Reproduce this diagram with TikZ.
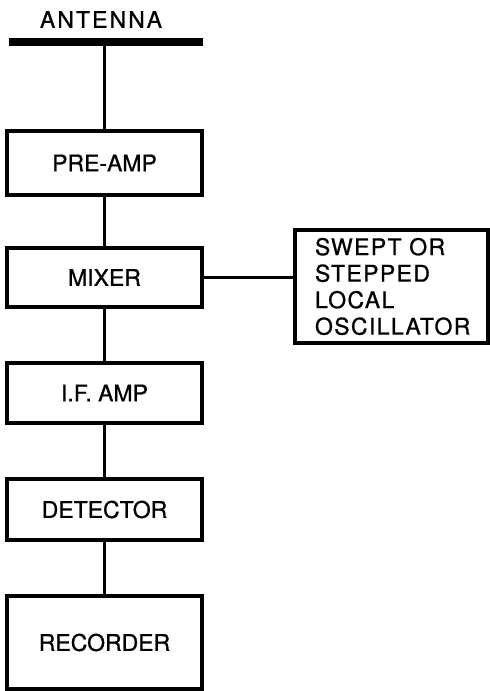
\documentclass[tikz,border=0pt]{standalone}
\usepackage{fontspec}
\setmainfont{TeX Gyre Heros}
\usepackage{tikz}
\usetikzlibrary{positioning,calc}

\begin{document}
\begin{tikzpicture}[
    x=1pt,y=1pt,
    wire/.style={draw=black, line width=3.8pt},
    mast/.style={draw=black, line width=8pt},
    block/.style={
        draw=black,
        line width=4.8pt,
        minimum width=195pt,
        inner sep=0pt,
        font=\fontsize{23}{26.5}\selectfont\addfontfeature{FakeBold=0.9}
    },
    sidebox/.style={
        draw=black,
        line width=4.8pt,
        minimum width=193pt,
        minimum height=113pt,
        inner xsep=20pt,
        inner ysep=0pt,
        text width=153pt,
        align=left,
        font=\fontsize{23}{26.5}\selectfont\addfontfeature{FakeBold=0.9,LetterSpace=6}
    },
    label/.style={font=\fontsize{23}{26.5}\selectfont\addfontfeature{FakeBold=0.9,LetterSpace=9}}
]

% ===== frame =====
\fill[white] (0,0) rectangle (490,-691);
\useasboundingbox (0,0) rectangle (490,-691);

% ===== antenna =====
\node[label] (antlabel) at (101,-19.5) {ANTENNA};
\coordinate (barL) at (9,-42);
\coordinate (barR) at (203,-42);
\draw[mast] (barL) -- (barR);

% ===== receiver chain =====
\node[block, minimum height=64pt] (preamp)   at (104.5,-163)   {PRE-AMP};
\node[block, minimum height=59pt] (mixer)    at (104.5,-277.5) {MIXER};
\node[block, minimum height=60pt] (ifamp)    at (104.5,-393)   {I.F. AMP};
\node[block, minimum height=61pt] (detector) at (104.5,-509.5) {DETECTOR};
\node[block, minimum height=93pt] (recorder) at (104.5,-642.5) {RECORDER};

% local oscillator
\node[sidebox] (osc) at (391.5,-286.5)
  {SWEPT OR\\ STEPPED\\ LOCAL\\ OSCILLATOR};

% ===== wires =====
\draw[wire] (preamp.north |- barL) -- (preamp.north);
\draw[wire] (preamp.south) -- (mixer.north);
\draw[wire] (mixer.south) -- (ifamp.north);
\draw[wire] (ifamp.south) -- (detector.north);
\draw[wire] (detector.south) -- (recorder.north);
\draw[wire] (mixer.east) -- (mixer.east -| osc.west);
\end{tikzpicture}
\end{document}
